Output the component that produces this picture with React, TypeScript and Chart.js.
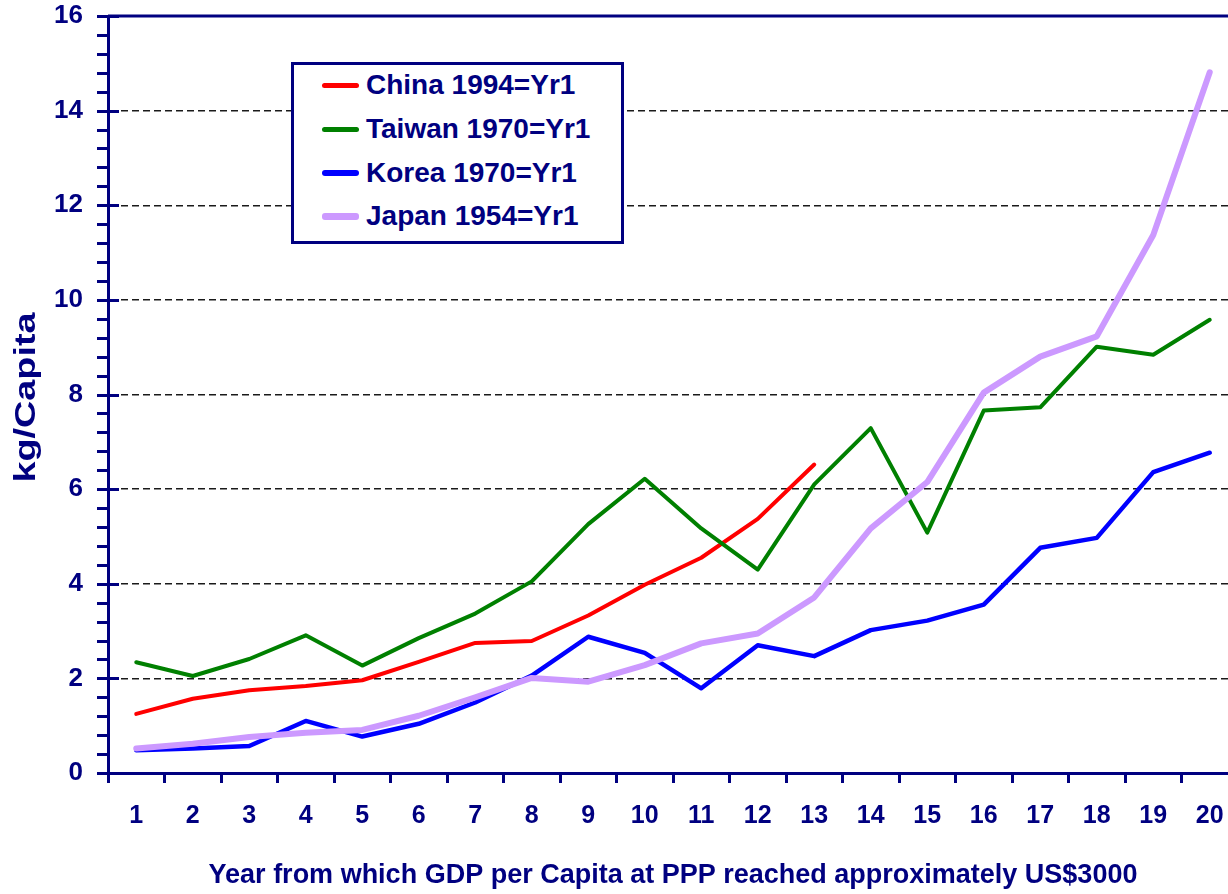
import React, { useEffect, useRef } from "react";
import { Chart, registerables } from "chart.js";

Chart.register(...registerables);

const years: string[] = ["1","2","3","4","5","6","7","8","9","10","11","12","13","14","15","16","17","18","19","20"];

const china: number[] = [1.25, 1.57, 1.75, 1.84, 1.96, 2.35, 2.75, 2.79, 3.33, 3.98, 4.55, 5.37, 6.52];
const taiwan: number[] = [2.34, 2.05, 2.41, 2.91, 2.27, 2.85, 3.37, 4.05, 5.26, 6.22, 5.17, 4.30, 6.10, 7.29, 5.08, 7.66, 7.73, 9.01, 8.84, 9.58];
const korea: number[] = [0.48, 0.52, 0.57, 1.10, 0.77, 1.04, 1.49, 2.06, 2.88, 2.54, 1.79, 2.70, 2.47, 3.02, 3.22, 3.56, 4.76, 4.97, 6.36, 6.77];
const japan: number[] = [0.52, 0.62, 0.76, 0.85, 0.91, 1.21, 1.60, 2.01, 1.93, 2.28, 2.74, 2.95, 3.71, 5.17, 6.15, 8.04, 8.80, 9.23, 11.37, 14.81];

const seriesLabels: string[] = ["China 1994=Yr1", "Taiwan 1970=Yr1", "Korea 1970=Yr1", "Japan 1954=Yr1"];
const seriesColors: string[] = ["#FF0000", "#008000", "#0000FF", "#CC99FF"];
const seriesWidths: number[] = [4, 4, 4.5, 6];
const seriesData: number[][] = [china, taiwan, korea, japan];

const yTitle = "kg/Capita";
const xTitle = "Year from which GDP per Capita at PPP reached approximately US$3000";

const NAVY = "#000080";
const FONT = '"Liberation Sans", Arial, Helvetica, sans-serif';

const CANVAS_W = 1250;
const CANVAS_H = 894;

const axisDecor = {
  id: "axisDecor",
  afterDraw(chart: any) {
    const { ctx, chartArea, scales } = chart;
    const { left, right, top, bottom } = chartArea;
    const y = scales.y;
    ctx.save();
    ctx.strokeStyle = NAVY;
    ctx.lineWidth = 3;
    ctx.lineCap = "butt";
    ctx.beginPath();
    // top and right frame
    ctx.moveTo(left, top);
    ctx.lineTo(right, top);
    ctx.lineTo(right, bottom);
    // y ticks: minor every 0.4, major every 2 crossing the axis
    for (let k = 0; k <= 40; k++) {
      const v = k * 0.4;
      const py = Math.round(y.getPixelForValue(v)) + 0.5;
      const major = k % 5 === 0;
      ctx.moveTo(left - 11, py);
      ctx.lineTo(major ? left + 11 : left, py);
    }
    ctx.stroke();

    // y-axis title (stretched along its length like the original)
    ctx.font = `bold 29px ${FONT}`;
    ctx.fillStyle = NAVY;
    const natural = ctx.measureText(yTitle).width;
    const target = 170;
    const cy = (top + bottom) / 2 + 3;
    ctx.translate(35, cy);
    ctx.rotate(-Math.PI / 2);
    ctx.scale(target / natural, 1);
    ctx.textAlign = "center";
    ctx.textBaseline = "alphabetic";
    ctx.fillText(yTitle, 0, 0);
    ctx.restore();
  },
};

export default function App() {
  const canvasRef = useRef<HTMLCanvasElement | null>(null);

  useEffect(() => {
    document.body.style.margin = "0";
    document.body.style.overflow = "hidden";
    const canvas = canvasRef.current;
    if (!canvas) return;
    const chart = new Chart(canvas, {
      type: "line",
      data: {
        labels: years,
        datasets: seriesData.map((d, i) => ({
          label: seriesLabels[i],
          data: d,
          borderColor: seriesColors[i],
          backgroundColor: seriesColors[i],
          borderWidth: seriesWidths[i],
          pointRadius: 0,
          pointHoverRadius: 0,
          tension: 0,
          fill: false,
          borderCapStyle: "round",
          borderJoinStyle: "round",
          order: 4 - i,
        })),
      },
      options: {
        animation: false,
        responsive: false,
        devicePixelRatio: 1,
        layout: { padding: { left: 0, top: 16, right: CANVAS_W - 1238, bottom: 0 } },
        plugins: {
          legend: { display: false },
          tooltip: { enabled: false },
        },
        scales: {
          x: {
            type: "category",
            offset: true,
            grid: {
              display: true,
              offset: true,
              drawOnChartArea: false,
              drawTicks: true,
              tickLength: 10,
              tickColor: NAVY,
              tickWidth: 3,
            },
            border: { display: true, color: NAVY, width: 3 },
            ticks: {
              color: NAVY,
              font: { family: FONT, size: 25, weight: "bold" },
              padding: 18,
              autoSkip: false,
              maxRotation: 0,
            },
            title: {
              display: true,
              text: xTitle,
              color: NAVY,
              font: { family: FONT, size: 27, weight: "bold" },
              padding: { top: 0, bottom: 2 },
            },
            afterFit: (scale: any) => {
              scale.height = CANVAS_H - 773;
              scale.paddingLeft = 0;
              scale.paddingRight = 0;
            },
          },
          y: {
            type: "linear",
            min: 0,
            max: 16,
            grid: {
              display: true,
              drawTicks: false,
              lineWidth: 1.5,
              color: (c: any) => (c.tick && (c.tick.value === 0 || c.tick.value === 16) ? "rgba(0,0,0,0)" : "#1a1a1a"),
            },
            border: { display: true, color: NAVY, width: 3, dash: [7, 4] },
            ticks: {
              stepSize: 2,
              color: NAVY,
              font: { family: FONT, size: 26, weight: "bold" },
              padding: 25,
            },
            title: { display: false },
            afterFit: (scale: any) => {
              scale.width = 108;
              scale.paddingTop = 0;
              scale.paddingBottom = 0;
            },
          },
        },
      },
      plugins: [axisDecor],
    } as any);
    return () => chart.destroy();
  }, []);

  const rowCenters = [85, 129, 173, 216];

  return (
    <div
      style={{
        position: "fixed",
        left: 0,
        top: 0,
        width: 1228,
        height: 894,
        overflow: "hidden",
        background: "#ffffff",
      }}
    >
      <canvas ref={canvasRef} width={CANVAS_W} height={CANVAS_H} style={{ display: "block" }} />
      <div
        style={{
          position: "absolute",
          left: 291,
          top: 62,
          width: 333,
          height: 182,
          boxSizing: "border-box",
          border: `3px solid ${NAVY}`,
          background: "#ffffff",
        }}
      />
      {seriesLabels.map((lab, i) => (
        <div
          key={lab}
          style={{
            position: "absolute",
            left: 322,
            top: rowCenters[i] - 18,
            height: 36,
            display: "flex",
            alignItems: "center",
            whiteSpace: "nowrap",
          }}
        >
          <div
            style={{
              width: 37,
              height: seriesWidths[i] + 1,
              background: seriesColors[i],
              borderRadius: 3,
              marginRight: 7,
            }}
          />
          <span
            style={{
              fontFamily: FONT,
              fontWeight: "bold",
              fontSize: 28,
              color: NAVY,
              lineHeight: "36px",
            }}
          >
            {lab}
          </span>
        </div>
      ))}
    </div>
  );
}
